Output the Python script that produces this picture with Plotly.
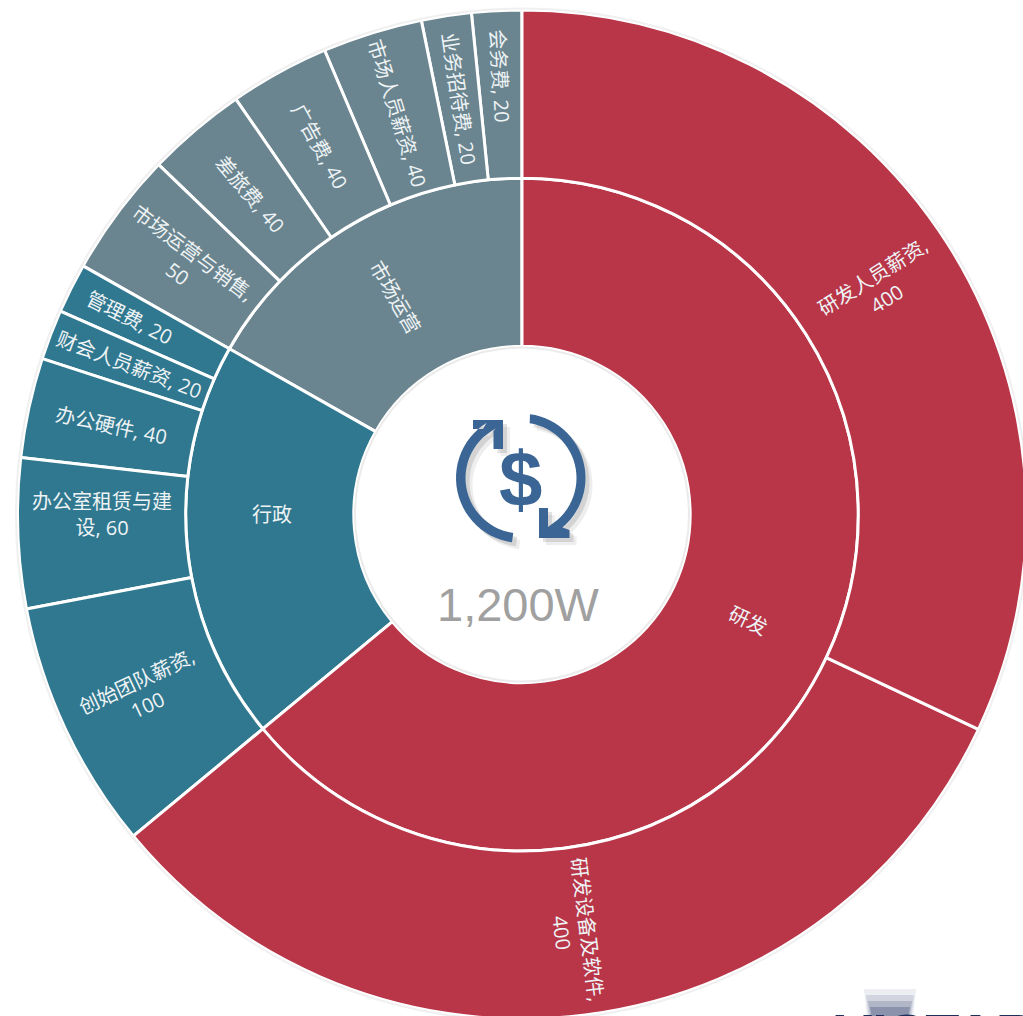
import math
import plotly.graph_objects as go

ROOT = "总额"
group_names = ["市场运营", "行政", "研发"]
group_values = [210, 240, 800]
group_colors = ["#6A858F", "#30788F", "#B93548"]

mkt_items = ["会务费", "业务招待费", "市场人员薪资", "广告费", "差旅费", "市场运营与销售"]
mkt_values = [20, 20, 40, 40, 40, 50]
mkt_text = ["会务费, 20", "业务招待费, 20", "市场人员薪资, 40", "广告费, 40", "差旅费, 40", "市场运营与销售,<br>50"]

admin_items = ["管理费", "财会人员薪资", "办公硬件", "办公室租赁与建设", "创始团队薪资"]
admin_values = [20, 20, 40, 60, 100]
admin_text = ["管理费, 20", "财会人员薪资, 20", "办公硬件, 40", "办公室租赁与建<br>设, 60", "创始团队薪资,<br>100"]

rd_items = ["研发设备及软件", "研发人员薪资"]
rd_values = [400, 400]
rd_text = ["研发设备及软件,<br>400", "研发人员薪资,<br>400"]

labels = [ROOT] + group_names + mkt_items + admin_items + rd_items
parents = [""] + [ROOT] * 3 + [group_names[0]] * 6 + [group_names[1]] * 5 + [group_names[2]] * 2
values = [sum(group_values)] + group_values + mkt_values + admin_values + rd_values
# the two sectors that span 3 o'clock are labelled by annotations below, because
# the sunburst would snap their text onto the horizontal axis
trace_texts = (["", group_names[0], group_names[1], ""] + mkt_text + admin_text + [rd_text[0], ""])
colors = (["#FFFFFF"] + group_colors + [group_colors[0]] * 6
          + [group_colors[1]] * 5 + [group_colors[2]] * 2)

W, H = 1044, 1038
CX, CY, R = 522, 514.5, 504.5
ICON_X, ICON_Y = 521, 478
TEXT_COLOR = "#EEF3F5"
TEXT_FAMILY = "'Open Sans', 'Noto Sans CJK SC'"
TEXT_SIZE = 20


def fx(x):
    return x / W


def fy(y):
    return 1 - y / H


def poly(pts):
    return "M" + " L".join(f"{fx(x):.5f},{fy(y):.5f}" for x, y in pts) + " Z"


def arc(radius, a0, a1, n=28):
    # angles in degrees, clockwise from 12 o'clock
    out = []
    for i in range(n + 1):
        a = math.radians(a0 + (a1 - a0) * i / n)
        out.append((ICON_X + radius * math.sin(a), ICON_Y - radius * math.cos(a)))
    return out


def radial_label(text, share_mid, radius):
    # share_mid: clockwise fraction of the full circle at the middle of the sector
    a = 360 * share_mid
    r = math.radians(a)
    return dict(text=text, x=fx(CX + radius * math.sin(r)), y=fy(CY - radius * math.cos(r)),
                xref="paper", yref="paper", showarrow=False, textangle=a - 90,
                xanchor="center", yanchor="middle",
                font=dict(size=TEXT_SIZE, color=TEXT_COLOR, family=TEXT_FAMILY))


total = sum(group_values)

left_arrow = ([(473, 420), (503, 420), (503, 449), (493.5, 449), (493.5, 431)]
              + arc(55.5, 333, 188) + arc(65, 188, 328) + [(483, 429), (473, 429)])
right_arrow = ([(539, 508), (548, 508), (548, 527)]
               + arc(55.5, 143, 9) + arc(64.5, 8, 140) + [(569.5, 530), (569.5, 538), (539, 538)])

shapes = []
for dx, dy, col in [(7, 7, "rgba(90,90,90,0.10)"), (4, 4, "rgba(90,90,90,0.18)"), (0, 0, "#3A6594")]:
    for shp in (left_arrow, right_arrow):
        shapes.append(dict(type="path", xref="paper", yref="paper",
                           path=poly([(x + dx, y + dy) for x, y in shp]),
                           fillcolor=col, line_width=0))

# soft edges of the centre disc and of the whole ring
for rad, op in [(167, 0.14), (R + 1.5, 0.10)]:
    shapes.append(dict(type="circle", xref="paper", yref="paper",
                       x0=fx(CX - rad), x1=fx(CX + rad), y0=fy(CY + rad), y1=fy(CY - rad),
                       line=dict(color=f"rgba(110,110,110,{op})", width=2), layer="above"))

# fade over the lower part of the total
for y0, y1, op in [(604, 610, 0.10), (610, 616, 0.2), (616, 622, 0.3)]:
    shapes.append(dict(type="rect", xref="paper", yref="paper", x0=fx(430), x1=fx(606),
                       y0=fy(y1), y1=fy(y0), fillcolor=f"rgba(255,255,255,{op})", line_width=0))

# faded logo mark at the lower right edge
for x0, x1, y0, op in [(864, 916, 989, 0.09), (866, 914, 995, 0.14), (868, 912, 1001, 0.2), (870, 910, 1007, 0.3)]:
    shapes.append(dict(type="path", xref="paper", yref="paper",
                       path=poly([(x0, y0), (x1, y0), (x1 - 4, 1030), (x0 + 4, 1030)]),
                       fillcolor=f"rgba(50,65,110,{op})", line_width=0))

annotations = [
    radial_label(rd_text[1], rd_values[1] / total / 2, 424),
    radial_label(group_names[2], group_values[2] / total / 2, 250),
    dict(text="<b>$</b>", x=fx(520), y=fy(479), xref="paper", yref="paper", showarrow=False,
         font=dict(size=78, color="#3A6594", family="Liberation Sans")),
    dict(text="1,200W", x=fx(518), y=fy(604), xref="paper", yref="paper", showarrow=False,
         font=dict(size=47, color="#A0A0A0", family="Liberation Sans")),
    dict(text="<b>VISTAR</b>", x=fx(935), y=fy(1033), xref="paper", yref="paper", showarrow=False,
         xanchor="center", yanchor="middle", font=dict(size=56, color="#1E2F5C", family="Liberation Sans")),
]

fig = go.Figure(go.Sunburst(
    labels=labels,
    parents=parents,
    values=values,
    text=trace_texts,
    branchvalues="total",
    sort=False,
    rotation=90,
    textinfo="text",
    hoverinfo="label+value",
    insidetextorientation="radial",
    insidetextfont=dict(size=TEXT_SIZE, color=TEXT_COLOR, family=TEXT_FAMILY),
    leaf=dict(opacity=1),
    marker=dict(colors=colors, line=dict(color="#FFFFFF", width=3)),
    domain=dict(x=[(CX - R) / W, (CX + R) / W], y=[1 - (CY + R) / H, 1 - (CY - R) / H]),
))
fig.update_layout(
    width=W, height=H, autosize=False,
    margin=dict(l=0, r=0, t=0, b=0),
    paper_bgcolor="#FFFFFF",
    showlegend=False,
    shapes=shapes,
    annotations=annotations,
)
fig.write_html("out.html", config={"displayModeBar": False},
               post_script="document.body.style.margin='0';document.documentElement.style.overflow='hidden';document.body.style.overflow='hidden';")
